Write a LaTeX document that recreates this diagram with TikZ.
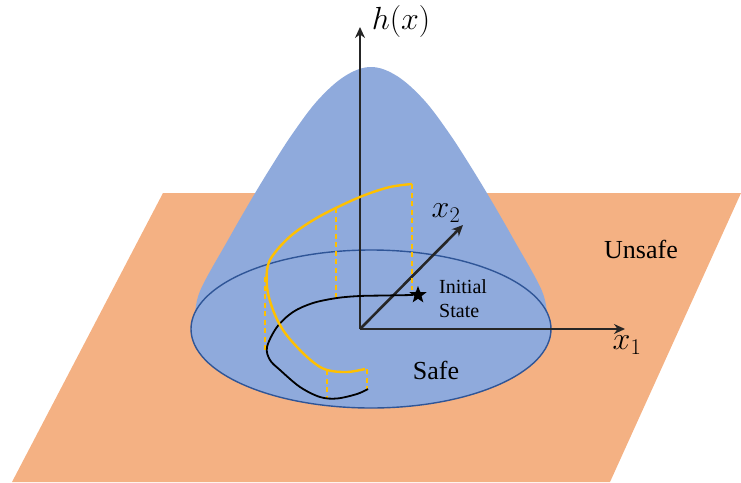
\RequirePackage{fix-cm}
\documentclass[tikz,border=0pt]{standalone}
\usepackage{fontspec}
\setmainfont{Liberation Serif}
\usetikzlibrary{arrows.meta,positioning,shapes.geometric}

\definecolor{planeorange}{HTML}{F4B183}
\definecolor{bellblue}{HTML}{8FAADC}
\definecolor{rimblue}{HTML}{2F5597}
\definecolor{trajyellow}{HTML}{FFC000}
\definecolor{axisgray}{HTML}{262626}

\begin{document}
\begin{tikzpicture}[x=1pt, y=-1pt,
  axis/.style={line width=2.6pt, color=axisgray, -{Stealth[length=11pt, width=10pt]}},
  proj/.style={trajyellow, line width=1.5pt, dash pattern=on 5pt off 3.5pt},
  lbl/.style={inner sep=0pt, font=\fontsize{26}{30}\selectfont},
  mathlbl/.style={inner sep=0pt, font=\fontsize{32}{36}\selectfont}]
  \useasboundingbox (0,0) rectangle (741,482);

  % plane of states
  \fill[planeorange] (163,193) -- (741,193) -- (610,482) -- (12,482) -- cycle;

  % barrier function surface
  \fill[bellblue] plot[smooth, tension=0.6] coordinates {(195,318) (200,291) (228,240) (251,200)
    (271,167) (293,133) (318,100) (345,76) (371,67) (397,76) (424,100) (449,133) (471,167)
    (491,200) (514,240) (542,291) (547,318)} -- cycle;
  \draw[rimblue, line width=1.4pt, fill=bellblue] (371,329) ellipse [x radius=180pt, y radius=79pt];

  % axes
  \coordinate (O) at (360,329);
  \coordinate (H) at (360,27);
  \coordinate (X1) at (625,329);
  \coordinate (X2) at (463,225);
  \draw[axis] (O) -- (H);
  \draw[axis] (O) -- (X1);
  \draw[axis] (O) -- (X2);
  \node[mathlbl] (hlbl) at (401,21) {$h(x)$};
  \node[mathlbl] (xonelbl) at (627,345) {$x_1$};
  \node[mathlbl] (xtwolbl) at (446,213) {$x_2$};

  % projections of the trajectory
  \draw[proj] (412,184) -- (412,290);
  \draw[proj] (336,208) -- (336,298);
  \draw[proj] (265,277) -- (265,353);
  \draw[proj] (327,370) -- (327,398);
  \draw[proj] (367,369) -- (367,390);

  % state trajectory and its lift onto h(x)
  \draw[black, line width=1.8pt] plot[smooth, tension=0.55] coordinates {(413,295) (385,295.5)
    (360,296) (337,298) (313,303) (293,312) (277,327) (267,347) (270,360) (280,370) (300,387)
    (320,397) (337,398.5) (357,394) (368,389)};
  \draw[trajyellow, line width=2.4pt] plot[smooth, tension=0.6] coordinates {(412,184) (390,187)
    (365,195) (340,206) (315,219) (293,234) (277,250) (268,265) (267,287) (273,310) (283,330)
    (297,347) (313,362) (327,370) (347,372) (365,369)};

  \node[star, star points=5, star point ratio=2.4, fill=black, inner sep=0pt, minimum size=18pt] (init) at (418,295) {};
  \node[lbl, font=\fontsize{20}{24}\selectfont, align=left, anchor=west] (initlbl) at (439,299) {Initial\\State};

  \node[lbl, anchor=base] (safe) at (436,379) {Safe};
  \node[lbl, anchor=base] (unsafe) at (641,258) {Unsafe};
\end{tikzpicture}
\end{document}
